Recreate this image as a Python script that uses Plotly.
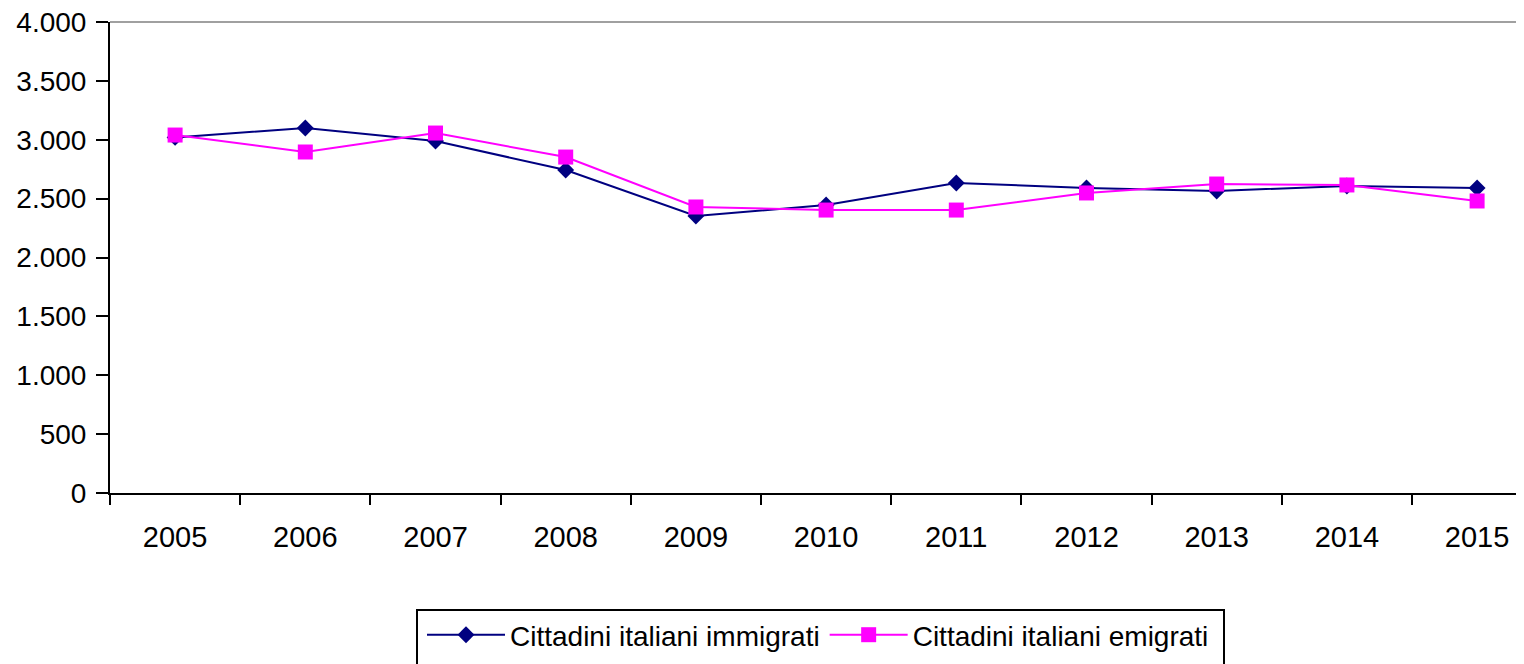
import plotly.graph_objects as go

years = ["2005", "2006", "2007", "2008", "2009", "2010", "2011", "2012", "2013", "2014", "2015"]
immigrati = [3020, 3100, 2989, 2743, 2352, 2446, 2633, 2590, 2565, 2607, 2590]
emigrati = [3040, 2896, 3057, 2853, 2429, 2403, 2403, 2548, 2624, 2616, 2480]
name_imm = "Cittadini italiani immigrati"
name_emi = "Cittadini italiani emigrati"
y_ticks = [0, 500, 1000, 1500, 2000, 2500, 3000, 3500, 4000]

OFF = 8  # page body margin
W, H = 1524, 664
ML, MR, MT = 110 - OFF, 0, 22 - OFF
PLOT_BOTTOM = 493 - OFF
MB = H - PLOT_BOTTOM
PW = W - ML - MR
PH = H - MT - MB
BAND = 130.2  # px per category
FONT = "Liberation Sans, Arial, sans-serif"

fig = go.Figure()
fig.add_trace(go.Scatter(
    x=years, y=immigrati, name=name_imm, mode="lines+markers",
    line=dict(color="#000080", width=2),
    marker=dict(symbol="diamond", size=13, color="#000080"),
))
fig.add_trace(go.Scatter(
    x=years, y=emigrati, name=name_emi, mode="lines+markers",
    line=dict(color="#FF00FF", width=2),
    marker=dict(symbol="square", size=15, color="#FF00FF"),
))

x_end = -0.5 + PW / BAND

def px_to_paper_x(px):
    return (px - OFF - ML) / PW

def px_to_paper_y(py):
    return (PLOT_BOTTOM - (py - OFF)) / PH

# legend box (bottom cut off by the page edge)
fig.add_shape(type="rect", xref="paper", yref="paper",
              x0=px_to_paper_x(417), x1=px_to_paper_x(1224),
              y0=px_to_paper_y(610), y1=px_to_paper_y(720),
              line=dict(color="black", width=2), fillcolor="rgba(0,0,0,0)")
# top border of plot area
fig.add_shape(type="line", xref="paper", yref="paper", x0=0, x1=1, y0=1, y1=1,
              line=dict(color="#A0A0A0", width=2))

fig.update_layout(
    width=W, height=H,
    margin=dict(l=ML, r=MR, t=MT, b=MB, pad=0),
    paper_bgcolor="white", plot_bgcolor="white",
    separators=",.",
    font=dict(family=FONT, size=28, color="black"),
    showlegend=True,
    legend=dict(
        orientation="h", x=px_to_paper_x(422), xanchor="left",
        y=px_to_paper_y(610), yanchor="top",
        font=dict(family=FONT, size=28, color="black"),
        itemwidth=78, bgcolor="rgba(0,0,0,0)", borderwidth=0,
        traceorder="normal", itemclick=False,
    ),
    xaxis=dict(
        type="category", range=[-0.5, x_end],
        showgrid=False, zeroline=False,
        showline=True, linecolor="black", linewidth=2,
        ticks="outside", tickson="boundaries", ticklen=10, tickwidth=2, tickcolor="black",
        ticklabelstandoff=17,
        tickfont=dict(family=FONT, size=29, color="black"),
    ),
    yaxis=dict(
        range=[0, 4000], tickvals=y_ticks, tickformat=",d",
        showgrid=False, zeroline=False,
        showline=True, linecolor="black", linewidth=2,
        ticks="outside", ticklen=12, tickwidth=2, tickcolor="black",
        ticklabelstandoff=4, ticklabeloverflow="allow",
        tickfont=dict(family=FONT, size=28, color="black"),
    ),
)

fig.write_html("out.html")
